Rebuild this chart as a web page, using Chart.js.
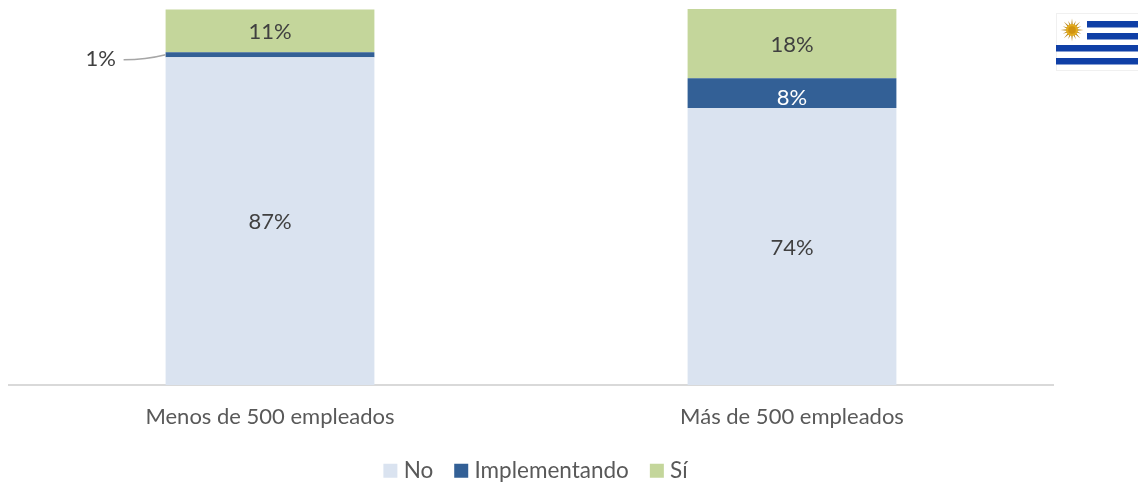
<!DOCTYPE html>
<html><head><meta charset="utf-8">
<script src="https://cdn.jsdelivr.net/npm/chart.js@4"></script>
<style>
html,body{margin:0;padding:0;background:#fff;overflow:hidden}
#wrap{position:relative;width:1138px;height:483px}
#flag{position:absolute;left:1056px;top:13px;filter:blur(0.5px)}
</style></head><body>
<div id="wrap"><canvas id="c" width="1138" height="483"></canvas>
<svg id="flag" width="82" height="58" viewBox="0 0 82 58" role="img" aria-label="Bandera de Uruguay">
<rect x="0.5" y="0.5" width="90" height="57" fill="#fff" stroke="#f0f0f0"/>
<g fill="#0f3fa6">
<rect x="31" y="8" width="60" height="6.5"/><rect x="31" y="20" width="60" height="6.5"/>
<rect x="0" y="32" width="91" height="6.5"/><rect x="0" y="45" width="91" height="6.5"/>
</g>
<g id="rays" fill="#b98a22"></g>
<circle cx="16" cy="17" r="6" fill="#e3ac1e"/><circle cx="16" cy="17" r="3.8" fill="#d1930f"/>
</svg></div>
<script>
const categories = ["Menos de 500 empleados", "Más de 500 empleados"];
const seriesNames = ["No", "Implementando", "Sí"];
const noValues = [87.2, 73.7];
const implementingValues = [1.3, 7.9];
const yesValues = [11.4, 18.4];
const seriesColors = ["#dae3f0", "#336096", "#c4d69b"];

const rays = document.getElementById('rays');
for (let i = 0; i < 16; i++) {
  const r = document.createElementNS('http://www.w3.org/2000/svg', 'polygon');
  r.setAttribute('points', '14.6,17 17.4,17 16,' + (i % 2 ? 7 : 5.5));
  r.setAttribute('transform', 'rotate(' + (i * 22.5) + ' 16 17)');
  rays.appendChild(r);
}

const FONT = 'Lato, Carlito, sans-serif';
const labelPlugin = {
  id: 'barLabels',
  afterLayout(chart) {
    chart.legend.left += 7;
    chart.legend.right += 7;
  },
  afterDatasetsDraw(chart) {
    const ctx = chart.ctx;
    ctx.save();
    ctx.font = '22px ' + FONT;
    ctx.fillStyle = '#404040';
    ctx.textAlign = 'center';
    ctx.textBaseline = 'middle';
    chart.data.datasets.forEach((ds, i) => {
      chart.getDatasetMeta(i).data.forEach((bar, j) => {
        const v = ds.data[j];
        const y = (bar.y + bar.base) / 2;
        if (v < 3) {
          const left = bar.x - bar.width / 2;
          ctx.fillText(Math.round(v) + '%', left - 65, y + 4);
          ctx.strokeStyle = '#a6a6a6';
          ctx.lineWidth = 1.5;
          ctx.beginPath();
          ctx.moveTo(left - 42, y + 5);
          ctx.quadraticCurveTo(left - 20, y + 5, left, y);
          ctx.stroke();
        } else if (i === 1) {
          ctx.fillStyle = '#ffffff';
          ctx.fillText(Math.round(v) + '%', bar.x, y + 5);
          ctx.fillStyle = '#404040';
        } else {
          ctx.fillText(Math.round(v) + '%', bar.x, y + 1);
        }
      });
    });
    ctx.restore();
  }
};

new Chart(document.getElementById('c'), {
  type: 'bar',
  data: {
    labels: categories,
    datasets: [
      { label: seriesNames[0], data: noValues, backgroundColor: seriesColors[0] },
      { label: seriesNames[1], data: implementingValues, backgroundColor: seriesColors[1] },
      { label: seriesNames[2], data: yesValues, backgroundColor: seriesColors[2] }
    ]
  },
  options: {
    responsive: false,
    animation: false,
    layout: { padding: { left: 9, right: 85, top: 9, bottom: -9 } },
    datasets: { bar: { categoryPercentage: 0.4, barPercentage: 1 } },
    scales: {
      x: {
        stacked: true,
        afterFit(scale) { scale.height -= 16; },
        grid: { display: false, drawTicks: false },
        border: { color: '#d9d9d9', width: 2 },
        ticks: { color: '#595959', font: { family: FONT, size: 22 }, padding: 19 }
      },
      y: { stacked: true, display: false, min: 0, max: 100 }
    },
    plugins: {
      tooltip: { enabled: false },
      legend: {
        position: 'bottom',
        labels: {
          boxWidth: 4, boxHeight: 4, padding: 26,
          color: '#595959', font: { family: FONT, size: 22.5 },
          generateLabels(chart) {
            return Chart.defaults.plugins.legend.labels.generateLabels(chart)
              .map(item => ({ ...item, lineWidth: 10, strokeStyle: item.fillStyle }));
          }
        }
      }
    }
  },
  plugins: [labelPlugin]
});
</script></body></html>
